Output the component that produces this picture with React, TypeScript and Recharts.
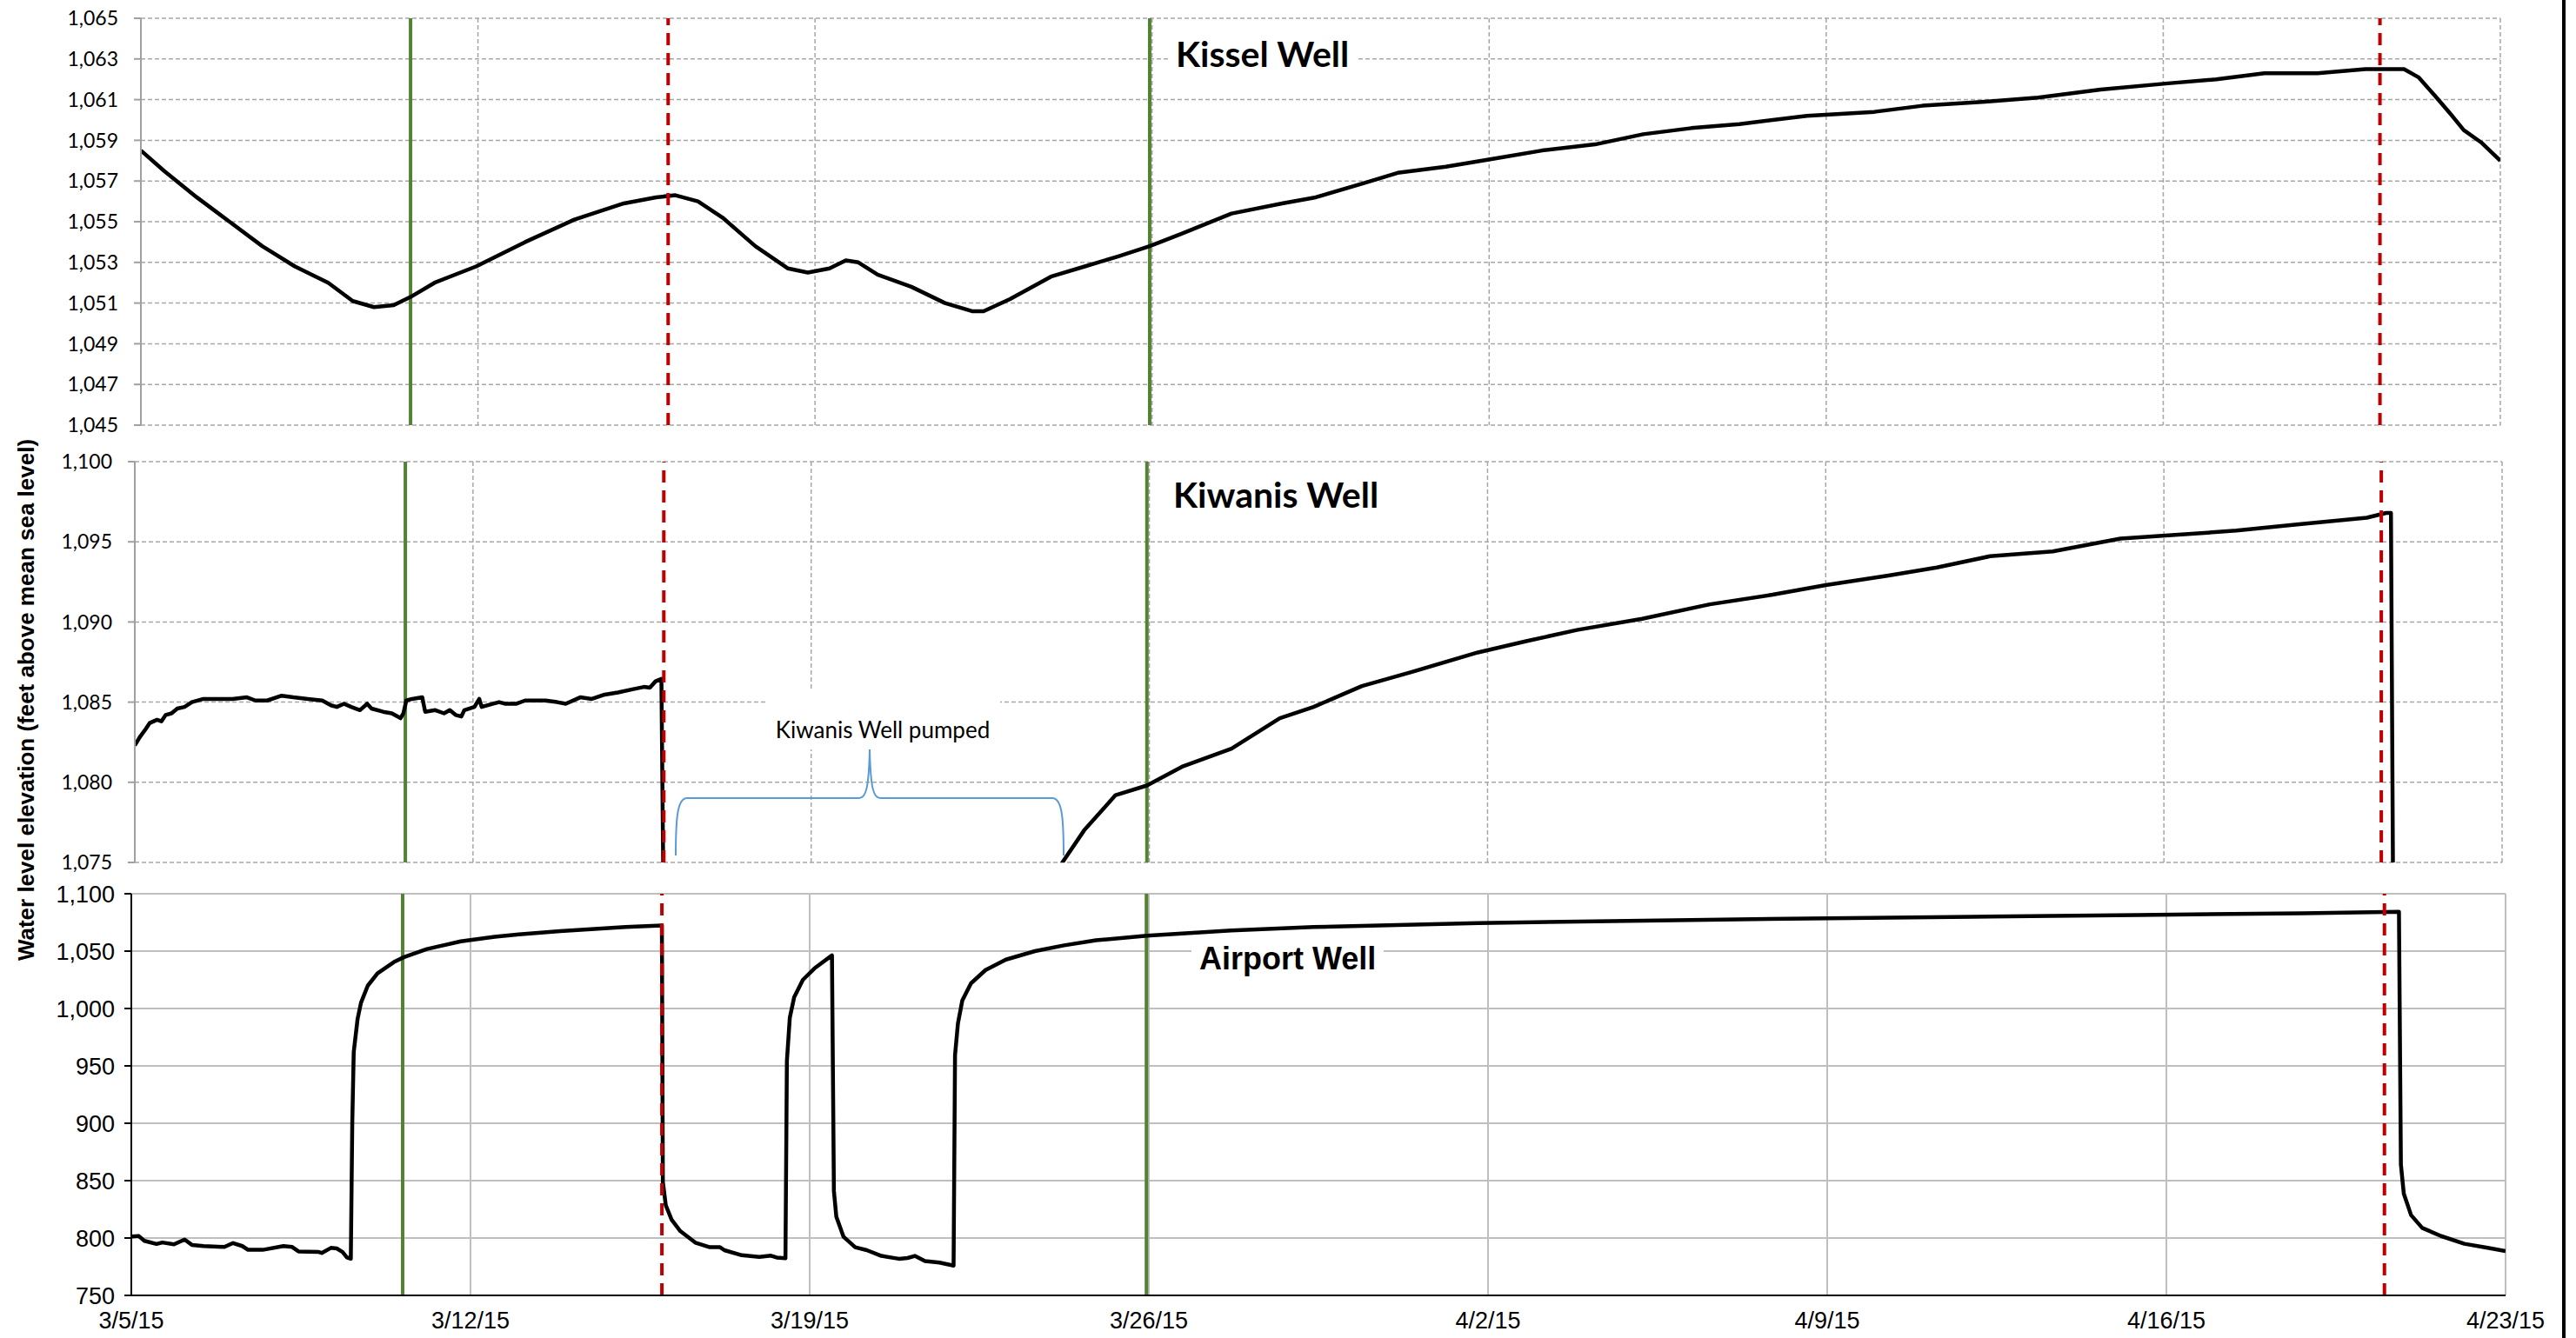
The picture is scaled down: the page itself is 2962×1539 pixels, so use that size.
import React from 'react';
import { LineChart, Line, XAxis, YAxis, CartesianGrid, ReferenceLine } from 'recharts';

// days after 3/5/15 at each weekly tick
const tickDays = [0, 7, 14, 21, 28, 35, 42, 49];
const tickLabels = ['3/5/15', '3/12/15', '3/19/15', '3/26/15', '4/2/15', '4/9/15', '4/16/15', '4/23/15'];

const kisselTicks = [1045, 1047, 1049, 1051, 1053, 1055, 1057, 1059, 1061, 1063, 1065];
const kiwanisTicks = [1075, 1080, 1085, 1090, 1095, 1100];
const airportTicks = [750, 800, 850, 900, 950, 1000, 1050, 1100];

// green = pump started, red dashed = pump stopped
const greenDays = [5.6, 20.95];
const redDays = [10.95, 46.5];

const kisselDays = [
  0, 0.48, 1.16, 1.84, 2.52, 3.2, 3.89, 4.4, 4.84, 5.25,
  5.6, 6.1, 6.96, 7.98, 9.0, 10.03, 10.7, 11.1, 11.57, 12.08,
  12.76, 13.44, 13.85, 14.3, 14.64, 14.9, 15.3, 16.0, 16.7, 17.26,
  17.5, 18.05, 18.9, 19.6, 20.3, 20.95, 21.6, 22.65, 23.7, 24.4,
  25.4, 26.1, 27.1, 28.1, 29.1, 30.2, 31.2, 32.2, 33.2, 34.6,
  36.0, 37.0, 38.3, 39.4, 40.7, 42.1, 43.1, 44.1, 45.2, 46.2,
  47.0, 47.3, 47.64, 48.0, 48.24, 48.6, 49,
];
const kisselLevels = [
  1058.5, 1057.5, 1056.2, 1055.0, 1053.8, 1052.8, 1052.0, 1051.1, 1050.8, 1050.9,
  1051.3, 1052.0, 1052.8, 1054.0, 1055.1, 1055.9, 1056.2, 1056.3, 1056.0, 1055.2,
  1053.8, 1052.7, 1052.5, 1052.7, 1053.1, 1053.0, 1052.4, 1051.8, 1051.0, 1050.6,
  1050.6, 1051.2, 1052.3, 1052.8, 1053.3, 1053.8, 1054.4, 1055.4, 1055.9, 1056.2,
  1056.9, 1057.4, 1057.7, 1058.1, 1058.5, 1058.8, 1059.3, 1059.6, 1059.8, 1060.2,
  1060.4, 1060.7, 1060.9, 1061.1, 1061.5, 1061.8, 1062.0, 1062.3, 1062.3, 1062.5,
  1062.5, 1062.1, 1061.2, 1060.2, 1059.5, 1058.9, 1058.0,
];

const kiwanisDays = [
  0, 0.1, 0.22, 0.31, 0.46, 0.55, 0.64, 0.76, 0.88, 1.03,
  1.18, 1.42, 1.66, 2.02, 2.32, 2.5, 2.74, 3.04, 3.28, 3.58,
  3.88, 4.06, 4.18, 4.33, 4.48, 4.66, 4.81, 4.9, 5.14, 5.32,
  5.5, 5.56, 5.62, 5.74, 5.95, 6.01, 6.22, 6.4, 6.52, 6.64,
  6.76, 6.82, 7.03, 7.13, 7.18, 7.42, 7.54, 7.66, 7.9, 8.08,
  8.5, 8.74, 8.92, 9.22, 9.46, 9.7, 10.0, 10.3, 10.54, 10.66,
  10.78, 10.9, 10.94, 11.0, 18.9, 19.2, 19.65, 20.3, 20.95, 21.7,
  22.7, 23.7, 24.4, 25.4, 26.45, 27.8, 28.8, 29.85, 31.2, 32.6,
  33.9, 35.0, 36.3, 37.3, 38.4, 39.7, 41.1, 42.1, 43.5, 44.8,
  46.2, 46.6, 46.7, 46.75,
];
const kiwanisLevels = [
  1082.3, 1082.8, 1083.3, 1083.7, 1083.9, 1083.8, 1084.2, 1084.3, 1084.6, 1084.7,
  1085.0, 1085.2, 1085.2, 1085.2, 1085.3, 1085.1, 1085.1, 1085.4, 1085.3, 1085.2,
  1085.1, 1084.8, 1084.7, 1084.9, 1084.7, 1084.5, 1084.9, 1084.6, 1084.4, 1084.3,
  1084.0, 1084.3, 1085.1, 1085.2, 1085.3, 1084.4, 1084.5, 1084.3, 1084.5, 1084.2,
  1084.1, 1084.5, 1084.7, 1085.2, 1084.7, 1084.9, 1085.0, 1084.9, 1084.9, 1085.1,
  1085.1, 1085.0, 1084.9, 1085.3, 1085.2, 1085.45, 1085.6, 1085.8, 1085.95, 1085.9,
  1086.3, 1086.45, 1074.0, 1070.0, 1070.0, 1075.0, 1077.0, 1079.2, 1079.8, 1081.0,
  1082.1, 1084.0, 1084.7, 1086.0, 1086.9, 1088.1, 1088.8, 1089.5, 1090.2, 1091.1,
  1091.7, 1092.3, 1092.9, 1093.4, 1094.1, 1094.4, 1095.2, 1095.4, 1095.7, 1096.1,
  1096.5, 1096.8, 1096.8, 1070.0,
];

const airportDays = [
  0, 0.15, 0.27, 0.52, 0.64, 0.88, 1.1, 1.25, 1.49, 1.92,
  2.1, 2.29, 2.41, 2.71, 3.14, 3.32, 3.45, 3.87, 3.93, 4.12,
  4.24, 4.36, 4.45, 4.53, 4.56, 4.59, 4.67, 4.74, 4.88, 5.08,
  5.42, 5.63, 6.1, 6.8, 7.5, 8.0, 8.85, 10.2, 10.95, 10.97,
  11.03, 11.15, 11.33, 11.64, 11.94, 12.15, 12.24, 12.6, 12.96, 13.2,
  13.32, 13.5, 13.53, 13.59, 13.68, 13.86, 14.1, 14.46, 14.5, 14.55,
  14.7, 14.94, 15.18, 15.48, 15.84, 16.02, 16.17, 16.38, 16.68, 16.97,
  17.0, 17.06, 17.15, 17.33, 17.63, 18.05, 18.65, 19.25, 19.91, 20.96,
  22.7, 24.4, 27.8, 31.2, 34.6, 38.0, 41.4, 44.8, 46.8, 46.84,
  46.9, 47.05, 47.28, 47.67, 48.15, 48.63, 49.0,
];
const airportLevels = [
  801.3, 801.8, 797.5, 794.8, 796.1, 794.5, 798.7, 794.0, 793.0, 792.2,
  795.6, 793.0, 789.7, 789.7, 793.0, 792.2, 788.3, 787.8, 787.0, 791.4,
  790.9, 787.8, 783.1, 782.0, 900.0, 962.0, 991.0, 1005.0, 1019.9, 1030.6,
  1040.5, 1044.8, 1051.8, 1058.5, 1062.5, 1064.5, 1067.5, 1071.0, 1072.3, 849.0,
  828.6, 816.0, 806.0, 796.0, 792.0, 792.0, 789.4, 785.0, 783.6, 784.6,
  783.0, 782.4, 954.5, 992.0, 1009.8, 1025.0, 1035.0, 1046.3, 841.0, 818.6,
  801.0, 792.0, 789.4, 784.4, 781.9, 782.6, 784.4, 780.0, 778.6, 776.0,
  959.5, 987.0, 1007.0, 1022.0, 1033.5, 1042.6, 1050.0, 1055.0, 1059.4, 1063.5,
  1068.0, 1071.0, 1074.5, 1076.5, 1078.5, 1080.0, 1081.5, 1083.0, 1084.3, 864.0,
  838.6, 820.0, 808.8, 801.7, 795.0, 791.5, 788.6,
];

const toRows = (days: number[], levels: number[]) => days.map((d, i) => ({ d, v: levels[i] }));

const fmt = (n: number) => n.toLocaleString('en-US');

interface PanelProps {
  data: { d: number; v: number }[];
  ticks: number[];
  top: number;
  height: number;
  margin: { top: number; right: number; bottom: number; left: number };
  excel: boolean;
}

const Panel: React.FC<PanelProps> = ({ data, ticks, top, height, margin, excel }) => {
  const gridStroke = excel ? '#a6a6a6' : '#bfbfbf';
  const axisStroke = excel ? '#a0a0a0' : '#000';
  const tickFont = excel
    ? { fontFamily: 'Lato, sans-serif', fontSize: 23, fill: '#000' }
    : { fontFamily: '"Liberation Sans", Arial, sans-serif', fontSize: 27, fill: '#000' };
  return (
    <div style={{ position: 'absolute', left: 0, top, width: 2962, height }}>
      <LineChart width={2962} height={height} data={data} margin={margin}>
        <CartesianGrid
          stroke={gridStroke}
          strokeWidth={excel ? 1.5 : 2}
          strokeDasharray={excel ? '5 3' : undefined}
        />
        <XAxis
          type="number"
          dataKey="d"
          domain={[0, 49]}
          ticks={tickDays}
          interval={0}
          allowDataOverflow
          hide={excel}
          height={40}
          axisLine={{ stroke: '#000', strokeWidth: 2 }}
          tickLine={false}
          tickSize={8}
          tickMargin={11}
          tick={tickFont}
          tickFormatter={(d: number) => tickLabels[tickDays.indexOf(d)]}
        />
        <YAxis
          type="number"
          domain={[ticks[0], ticks[ticks.length - 1]]}
          ticks={ticks}
          interval={0}
          allowDataOverflow
          width={80}
          axisLine={{ stroke: axisStroke, strokeWidth: 2 }}
          tickLine={{ stroke: axisStroke, strokeWidth: 2 }}
          tickSize={8}
          tickMargin={excel ? 18 : 11}
          tick={tickFont}
          tickFormatter={fmt}
        />
        {greenDays.map((d) => (
          <ReferenceLine key={`g${d}`} x={d} stroke="#548235" strokeWidth={4} />
        ))}
        <Line
          type="linear"
          dataKey="v"
          stroke="#000"
          strokeWidth={4.5}
          strokeLinejoin="round"
          dot={false}
          activeDot={false}
          isAnimationActive={false}
        />
        {redDays.map((d) => (
          <ReferenceLine key={`r${d}`} x={d} stroke="#C00000" strokeWidth={4} strokeDasharray="14 9" />
        ))}
      </LineChart>
    </div>
  );
};

const App: React.FC = () => {
  return (
    <div style={{ position: 'absolute', left: 0, top: 0, width: 2962, height: 1539, background: '#fff', overflow: 'hidden' }}>
      <Panel
        data={toRows(kisselDays, kisselLevels)}
        ticks={kisselTicks}
        top={0}
        height={510}
        margin={{ top: 21, right: 87, bottom: 21, left: 82 }}
        excel
      />
      <Panel
        data={toRows(kiwanisDays, kiwanisLevels)}
        ticks={kiwanisTicks}
        top={510}
        height={500}
        margin={{ top: 21, right: 85, bottom: 18, left: 75 }}
        excel
      />
      <Panel
        data={toRows(airportDays, airportLevels)}
        ticks={airportTicks}
        top={1010}
        height={529}
        margin={{ top: 18, right: 81, bottom: 9, left: 71 }}
        excel={false}
      />

      <div style={{ position: 'absolute', left: 1343, top: 36, height: 52, lineHeight: '52px', padding: '0 9px', background: '#fff', fontFamily: 'Lato, sans-serif', fontWeight: 700, fontSize: 41, color: '#000', whiteSpace: 'nowrap' }}>
        Kissel Well
      </div>
      <div style={{ position: 'absolute', left: 1340, top: 543, height: 52, lineHeight: '52px', padding: '0 9px', background: '#fff', fontFamily: 'Lato, sans-serif', fontWeight: 700, fontSize: 41, color: '#000', whiteSpace: 'nowrap' }}>
        Kiwanis Well
      </div>
      <div style={{ position: 'absolute', left: 1370, top: 1080, height: 46, lineHeight: '46px', padding: '0 9px', background: '#fff', fontFamily: '"Liberation Sans", Arial, sans-serif', fontWeight: 700, fontSize: 36, color: '#000', whiteSpace: 'nowrap' }}>
        Airport Well
      </div>
      <div style={{ position: 'absolute', left: 880, top: 792, width: 270, height: 70, boxSizing: 'border-box', paddingTop: 34, lineHeight: '26px', background: '#fff', fontFamily: 'Lato, sans-serif', fontSize: 26, color: '#000', textAlign: 'center', whiteSpace: 'nowrap' }}>
        Kiwanis Well pumped
      </div>

      <svg width={2962} height={1539} style={{ position: 'absolute', left: 0, top: 0, pointerEvents: 'none' }}>
        <path
          d="M 777 984 C 777 940, 779 918, 790 918 L 988 918 C 996 918, 999 905, 1000 862 C 1001 905, 1004 918, 1012 918 L 1210 918 C 1221 918, 1223 940, 1223 984"
          fill="none"
          stroke="#5B9BD5"
          strokeWidth={2}
        />
        <text
          transform="translate(32, 805) rotate(-90)"
          textAnchor="middle"
          dominantBaseline="middle"
          fontFamily='"Liberation Sans", Arial, sans-serif'
          fontWeight="bold"
          fontSize={26}
          fill="#000"
        >
          Water level elevation (feet above mean sea level)
        </text>
      </svg>

      <div style={{ position: 'absolute', left: 2946, top: 0, width: 4, height: 1539, background: '#000' }} />
    </div>
  );
};

export default App;
